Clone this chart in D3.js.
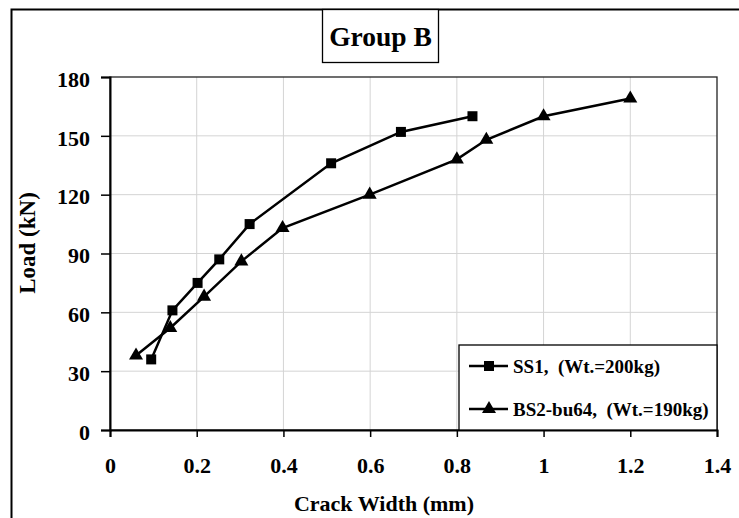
<!DOCTYPE html>
<html><head><meta charset="utf-8">
<script src="https://cdn.jsdelivr.net/npm/d3@7"></script>
<style>
body{margin:0;background:#fff;}
svg{display:block;}
svg text{font-family:"Liberation Serif","Times New Roman",serif;font-weight:bold;}
</style></head>
<body><svg id="c" width="739" height="518"></svg>
<script>
const title = "Group B";
const xTicks = [0, 0.2, 0.4, 0.6, 0.8, 1, 1.2, 1.4];
const yTicks = [0, 30, 60, 90, 120, 150, 180];
const ss1X = [0.095, 0.144, 0.202, 0.252, 0.322, 0.51, 0.671, 0.836];
const ss1Y = [36, 61, 75, 87, 105, 136, 152, 160];
const bs2X = [0.06, 0.139, 0.217, 0.303, 0.398, 0.599, 0.8, 0.868, 1.0, 1.2];
const bs2Y = [38, 52, 68, 86, 103, 120, 138, 148, 160, 169];
const seriesNames = ["SS1,  (Wt.=200kg)", "BS2-bu64,  (Wt.=190kg)"];

const FF = "Liberation Serif";
const svg = d3.select("#c");
const L = 110, R = 717, T = 77, B = 430;
const x = d3.scaleLinear().domain([0, 1.4]).range([L, R]);
const y = d3.scaleLinear().domain([0, 180]).range([B, T]);

// outer frame
svg.append("rect").attr("x", 11.5).attr("y", 9.5).attr("width", 760).attr("height", 540)
  .attr("fill", "none").attr("stroke", "#000").attr("stroke-width", 2);

// gridlines
svg.append("g").selectAll("line").data(xTicks.slice(1, -1)).join("line")
  .attr("x1", d => x(d)).attr("x2", d => x(d)).attr("y1", T).attr("y2", B)
  .attr("stroke", "#d4d4d4").attr("stroke-width", 1);
svg.append("g").selectAll("line").data(yTicks.slice(1, -1)).join("line")
  .attr("x1", L).attr("x2", R).attr("y1", d => y(d)).attr("y2", d => y(d))
  .attr("stroke", "#d4d4d4").attr("stroke-width", 1);

// plot border
svg.append("rect").attr("x", L).attr("y", T).attr("width", R - L).attr("height", B - T)
  .attr("fill", "none").attr("stroke", "#222").attr("stroke-width", 1.3);

// axes
const xAxis = svg.append("g").attr("transform", `translate(0,${B})`)
  .call(d3.axisBottom(x).tickValues(xTicks).tickFormat(d3.format("")).tickSize(7).tickPadding(0));
const yAxis = svg.append("g").attr("transform", `translate(${L},0)`)
  .call(d3.axisLeft(y).tickValues(yTicks).tickSize(9).tickPadding(11));
[xAxis, yAxis].forEach(g => {
  g.attr("font-family", FF);
  g.select(".domain").attr("stroke", "#000").attr("stroke-width", 2);
  g.selectAll(".tick line").attr("stroke", "#000").attr("stroke-width", 1.5);
  g.selectAll("text").attr("font-family", FF).attr("font-weight", "bold")
    .attr("font-size", 22).attr("fill", "#000");
});
xAxis.selectAll("text").attr("y", 43).attr("dy", null);
yAxis.selectAll("text").attr("dy", "0.42em");

// axis titles
svg.append("text").attr("x", 384).attr("y", 511).attr("text-anchor", "middle")
  .attr("font-family", FF).attr("font-size", 22).text("Crack Width (mm)");
svg.append("text").attr("transform", "translate(35,243) rotate(-90)").attr("text-anchor", "middle")
  .attr("font-family", FF).attr("font-size", 23).text("Load (kN)");

// title box
svg.append("rect").attr("x", 322.5).attr("y", 9.5).attr("width", 116).attr("height", 53)
  .attr("fill", "#fff").attr("stroke", "#000").attr("stroke-width", 1.3);
svg.append("text").attr("x", 380.5).attr("y", 46).attr("text-anchor", "middle")
  .attr("font-family", FF).attr("font-size", 27.5).text(title);

// series
const line = d3.line().x(d => x(d[0])).y(d => y(d[1]));
const ss1 = ss1X.map((v, i) => [v, ss1Y[i]]);
const bs2 = bs2X.map((v, i) => [v, bs2Y[i]]);
const sq = d3.symbol().type(d3.symbolSquare).size(100);
const tri = d3.symbol().type(d3.symbolTriangle).size(85);

svg.append("path").datum(ss1).attr("d", line).attr("fill", "none").attr("stroke", "#000").attr("stroke-width", 2.5);
svg.append("path").datum(bs2).attr("d", line).attr("fill", "none").attr("stroke", "#000").attr("stroke-width", 2.5);
svg.append("g").selectAll("path").data(ss1).join("path")
  .attr("d", sq).attr("transform", d => `translate(${x(d[0])},${y(d[1])})`).attr("fill", "#000");
svg.append("g").selectAll("path").data(bs2).join("path")
  .attr("d", tri).attr("transform", d => `translate(${x(d[0])},${y(d[1])})`).attr("fill", "#000");

// legend
const lg = svg.append("g");
lg.append("rect").attr("x", 459).attr("y", 345).attr("width", R - 459).attr("height", B - 345)
  .attr("fill", "#fff").attr("stroke", "#000").attr("stroke-width", 1.3);
const rows = [366, 409];
[sq, tri].forEach((sym, i) => {
  lg.append("line").attr("x1", 469).attr("x2", 508).attr("y1", rows[i]).attr("y2", rows[i])
    .attr("stroke", "#000").attr("stroke-width", 2.5);
  lg.append("path").attr("d", sym).attr("transform", `translate(489,${rows[i]})`).attr("fill", "#000");
  lg.append("text").attr("x", 513).attr("y", rows[i] + 7).attr("font-family", FF).attr("font-size", 19)
    .style("white-space", "pre").text(seriesNames[i]);
});
</script></body></html>
